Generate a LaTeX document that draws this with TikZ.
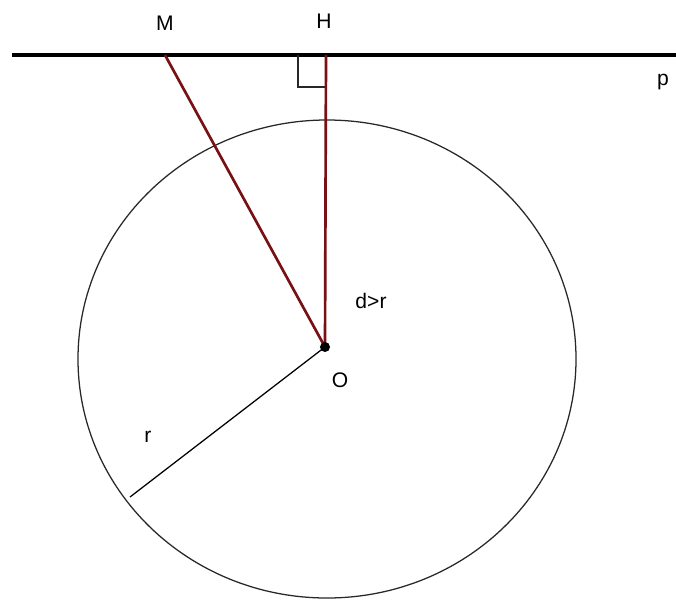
\documentclass[tikz,border=0pt]{standalone}
\usepackage{fontspec}
\setmainfont{Liberation Sans}
\usepackage{tikz}
\usetikzlibrary{
  arrows.meta,
  positioning
}
\definecolor{DarkRed}{RGB}{120, 16, 20}
\definecolor{DarkGray}{RGB}{40, 40, 40}
\tikzset{
    segment/.style={DarkRed, line width=1.9pt},
    label/.style={font=\fontsize{15}{17}\selectfont, inner sep=0pt}
}

\begin{document}
\begin{tikzpicture}[x=0.025cm, y=-0.025cm]
            \useasboundingbox (0,0) rectangle (676,599);
            % line p and points
            \coordinate (P1) at (12,55);
            \coordinate (P2) at (676,55);
            \coordinate (M) at (165,55);
            \coordinate (H) at (326,55);
            \coordinate (O) at (325,347);
            \coordinate (R) at (130,497);
            \draw[black, line width=2.2pt] (P1) -- (P2);
            % circle
            \draw[DarkGray, line width=0.9pt] (327,359) ellipse [x radius=249, y radius=239];
            % right angle at H
            \draw[DarkGray, line width=0.9pt] ([shift={(-28,0)}]H) -- ++(0,32) -- ++(28,0);
            % segments
            \draw[segment] (M) -- (O);
            \draw[segment] (H) -- (O);
            \draw[black, line width=0.9pt] (O) -- (R);
            \fill[black] (O) circle [radius=5];
            % labels
            \node[label] (lM) at (165,23) {M};
            \node[label] (lH) at (324,21) {H};
            \node[label] (lp) at (663,82) {p};
            \node[label] (ld) at (371,301) {d>r};
            \node[label] (lO) at (340,380) {O};
            \node[label] (lr) at (148,437) {r};
        \end{tikzpicture}
\end{document}
